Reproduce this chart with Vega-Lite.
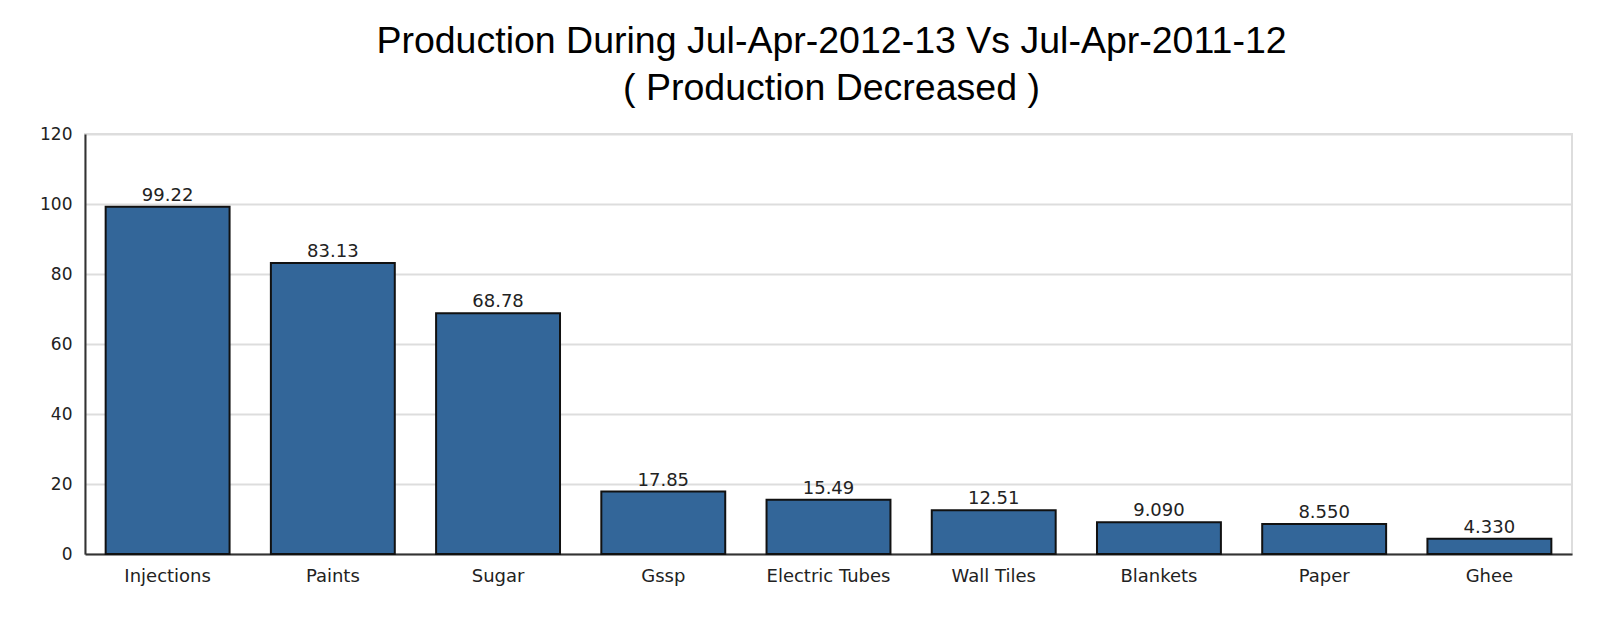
{
  "$schema": "https://vega.github.io/schema/vega-lite/v6.json",
  "width": 1487,
  "height": 420,
  "autosize": {"type": "none"},
  "padding": {"left": 85, "top": 134, "right": 49, "bottom": 65},
  "background": "white",
  "title": {
    "text": ["Production During Jul-Apr-2012-13 Vs Jul-Apr-2011-12", "( Production Decreased )"],
    "font": "Liberation Sans",
    "fontSize": 37.5,
    "fontWeight": "normal",
    "color": "#000000",
    "lineHeight": 47,
    "anchor": "middle",
    "dx": 3,
    "offset": 18
  },
  "data": {
    "values": [
      {"item": "Injections", "value": 99.22},
      {"item": "Paints", "value": 83.13},
      {"item": "Sugar", "value": 68.78},
      {"item": "Gssp", "value": 17.85},
      {"item": "Electric Tubes", "value": 15.49},
      {"item": "Wall Tiles", "value": 12.51},
      {"item": "Blankets", "value": 9.09},
      {"item": "Paper", "value": 8.55},
      {"item": "Ghee", "value": 4.33}
    ]
  },
  "encoding": {
    "x": {
      "field": "item",
      "type": "nominal",
      "sort": null,
      "scale": {"paddingInner": 0.25, "paddingOuter": 0.125},
      "axis": {
        "title": null,
        "labelAngle": 0,
        "labelFont": "DejaVu Sans",
        "labelFontSize": 18,
        "labelColor": "#222222",
        "labelPadding": 13,
        "ticks": false,
        "domainColor": "#333333",
        "domainWidth": 2,
        "grid": false
      }
    },
    "y": {
      "field": "value",
      "type": "quantitative",
      "scale": {"domain": [0, 120], "nice": false},
      "axis": {
        "title": null,
        "values": [0, 20, 40, 60, 80, 100, 120],
        "labelFont": "DejaVu Sans",
        "labelFontSize": 17,
        "labelColor": "#222222",
        "labelPadding": 13,
        "ticks": false,
        "domainColor": "#333333",
        "domainWidth": 2,
        "gridColor": "#dddddd",
        "gridWidth": 2
      }
    }
  },
  "layer": [
    {
      "mark": {"type": "bar", "fill": "#336699", "stroke": "#111111", "strokeWidth": 2}
    },
    {
      "mark": {"type": "text", "font": "DejaVu Sans", "fontSize": 18, "color": "#222222", "baseline": "alphabetic", "dy": -6},
      "encoding": {
        "text": {"field": "value", "type": "quantitative", "format": ".4r"}
      }
    }
  ],
  "config": {
    "view": {"stroke": "#dddddd", "strokeWidth": 2}
  }
}
